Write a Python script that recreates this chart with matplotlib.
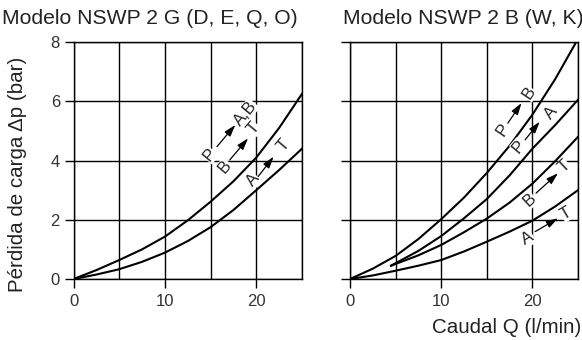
import numpy as np
import matplotlib.pyplot as plt

plt.rcParams['font.family'] = ['Liberation Sans', 'DejaVu Sans']

#############################
# Data
#############################
q_left = [0, 2.5, 5, 7.5, 10, 12.5, 15, 17.5, 20, 22.5, 25]
dp_left_upper = [0, 0.30, 0.64, 1.00, 1.43, 1.98, 2.61, 3.30, 4.10, 5.10, 6.25]   # P->A,B / B->T
dp_left_lower = [0, 0.15, 0.33, 0.58, 0.89, 1.28, 1.75, 2.33, 3.00, 3.68, 4.40]   # A->T

q_right_full = [0, 2.5, 5, 7.5, 10, 12.5, 15, 17.5, 20, 22.5, 24.8]
dp_right_pb = [0, 0.35, 0.78, 1.35, 2.02, 2.75, 3.58, 4.50, 5.55, 6.75, 8.00]      # P->B
q_right_mid = [4.5, 7.5, 10, 12.5, 15, 17.5, 20, 22.5, 25]
dp_right_pa = [0.45, 0.95, 1.45, 2.05, 2.70, 3.50, 4.40, 5.20, 6.05]               # P->A
dp_right_bt = [0.45, 0.80, 1.15, 1.58, 2.04, 2.58, 3.22, 3.98, 4.80]               # B->T
q_right_at = [0, 2.5, 5, 7.5, 10, 12.5, 15, 17.5, 20, 22.5, 25]
dp_right_at = [0, 0.12, 0.28, 0.45, 0.64, 0.93, 1.26, 1.60, 1.97, 2.45, 3.00]      # A->T

x_ticks = [0, 10, 20]
y_ticks = [0, 2, 4, 6, 8]

# labels: (start letter, end letter, start pos, arrow tail, arrow head, end pos, rotation)
labels_left = [
    ('P', 'A,B', (14.9, 4.19), (15.7, 4.47), (17.7, 5.20), (18.8, 5.60), 50),
    ('B', 'T', (16.6, 3.79), (17.1, 4.02), (19.1, 4.75), (19.7, 5.09), 50),
    ('A', 'T', (19.6, 3.34), (20.2, 3.46), (21.9, 4.13), (22.95, 4.53), 50),
]
labels_right = [
    ('P', 'B', (16.8, 5.03), (17.3, 5.26), (18.8, 5.94), (19.6, 6.27), 56),
    ('P', 'A', (18.5, 4.47), (19.2, 4.70), (20.8, 5.31), (22.1, 5.60), 50),
    ('B', 'T', (19.7, 2.67), (20.4, 2.90), (22.8, 3.57), (23.5, 3.79), 43),
    ('A', 'T', (19.5, 1.37), (20.3, 1.60), (22.8, 2.05), (23.7, 2.22), 30),
]

fig = plt.figure(figsize=(5.82, 3.40), dpi=100)
ax0 = fig.add_axes([0.1263, 0.1794, 0.3926, 0.697])
ax1 = fig.add_axes([0.6014, 0.1794, 0.3918, 0.697])


def style_axis(ax):
    ax.set_xlim(0, 25)
    ax.set_ylim(0, 8)
    ax.set_xticks(x_ticks)
    ax.set_xticks([5, 15, 25], minor=True)
    ax.set_yticks(y_ticks)
    ax.grid(True, which='both', color='black', lw=1.0, zorder=0)
    ax.tick_params(which='major', direction='out', length=6.8, width=1.0,
                   labelsize=12, pad=3, labelcolor='#333333')
    ax.tick_params(axis='x', which='major', pad=4)
    ax.tick_params(which='minor', length=0)
    for s in ax.spines.values():
        s.set_color('black')
        s.set_linewidth(1.0)


def add_labels(ax, labels):
    box = dict(facecolor='white', edgecolor='none', pad=0.3)
    for a, b, pa, t0, t1, pb, rot in labels:
        ax.text(pa[0], pa[1], a, rotation=rot, ha='center', va='center',
                fontsize=12, bbox=box, zorder=3, color='#222222')
        ax.text(pb[0], pb[1], b, rotation=rot, ha='center', va='center',
                fontsize=12, bbox=box, zorder=3, color='#222222')
        ax.annotate('', xy=t1, xytext=t0,
                    arrowprops=dict(arrowstyle='-|>,head_length=0.7,head_width=0.22',
                                    color='black', lw=0.9, shrinkA=0, shrinkB=0),
                    zorder=4)


style_axis(ax0)
ax0.plot(q_left, dp_left_upper, color='black', lw=1.5, zorder=2)
ax0.plot(q_left, dp_left_lower, color='black', lw=1.5, zorder=2)
add_labels(ax0, labels_left)
ax0.set_ylabel('Pérdida de carga Δp (bar)', fontsize=14.8, color='#222222')
ax0.yaxis.set_label_coords(-0.205, 0.44)

style_axis(ax1)
ax1.set_yticklabels([])
ax1.plot(q_right_full, dp_right_pb, color='black', lw=1.5, zorder=2)
ax1.plot(q_right_mid, dp_right_pa, color='black', lw=1.5, zorder=2)
ax1.plot(q_right_mid, dp_right_bt, color='black', lw=1.5, zorder=2)
ax1.plot(q_right_at, dp_right_at, color='black', lw=1.5, zorder=2)
add_labels(ax1, labels_right)

fig.text(0.003, 0.928, 'Modelo NSWP 2 G (D, E, Q, O)', fontsize=15.2, color='#222222')
fig.text(0.589, 0.928, 'Modelo NSWP 2 B (W, K)', fontsize=15.2, color='#222222')
fig.text(0.999, 0.022, 'Caudal Q (l/min)', fontsize=14.8, ha='right', color='#222222')

plt.savefig('out.png', dpi=100)
